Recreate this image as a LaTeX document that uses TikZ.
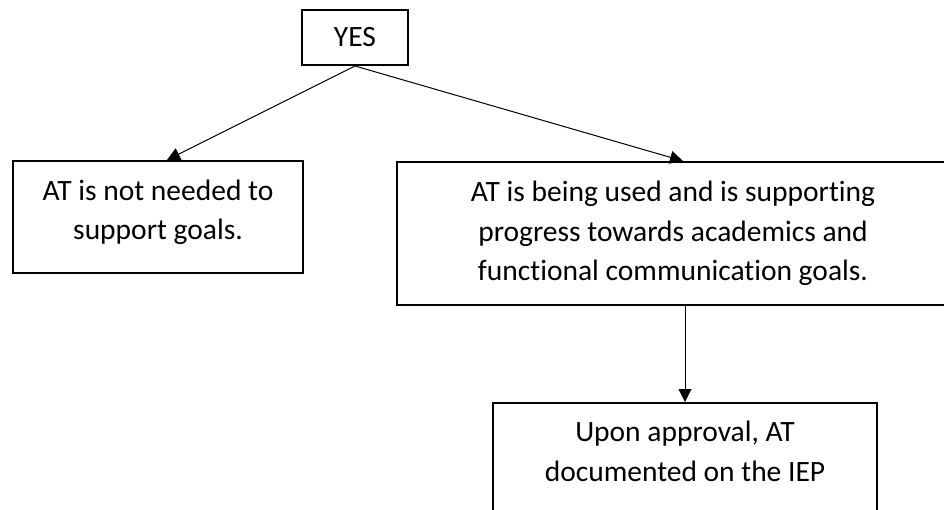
\documentclass[tikz,border=0pt]{standalone}
\usepackage{fontspec}
\setmainfont{Carlito}[Ligatures=NoCommon]
\usetikzlibrary{calc}
\usetikzlibrary{arrows.meta}

\begin{document}
\begin{tikzpicture}[x=1pt,y=-1pt,
    box/.style={draw,line width=2pt,inner sep=0,align=center,font=\fontsize{29.5}{39.5}\selectfont},
    link/.style={-{Triangle[length=13pt,width=13pt]},line width=1pt}]
        \useasboundingbox (0,0) rectangle (944,510);
        % Boxes
        \node [box,minimum width=106,minimum height=55] (Yes) at (355,37.5) {YES};
        \node [box,minimum width=290,minimum height=112,text depth=14pt] (NotNeeded) at (158,217) {AT is not needed to\\support goals.};
        \node [box,minimum width=552,minimum height=143] (BeingUsed) at (673,233.5) {AT is being used and is supporting\\progress towards academics and\\functional communication goals.};
        \node [box,minimum width=384,minimum height=136,anchor=north] (Approval) at (685,402) {Upon approval, AT\\documented on the IEP\\\mbox{}};
        % Arrows
        \draw [link] (Yes.south) -- ([xshift=9pt]NotNeeded.north);
        \draw [link] (Yes.south) -- ([xshift=10pt]BeingUsed.north);
        \draw [link] (Approval.north |- BeingUsed.south) -- (Approval.north);
    \end{tikzpicture}
\end{document}
